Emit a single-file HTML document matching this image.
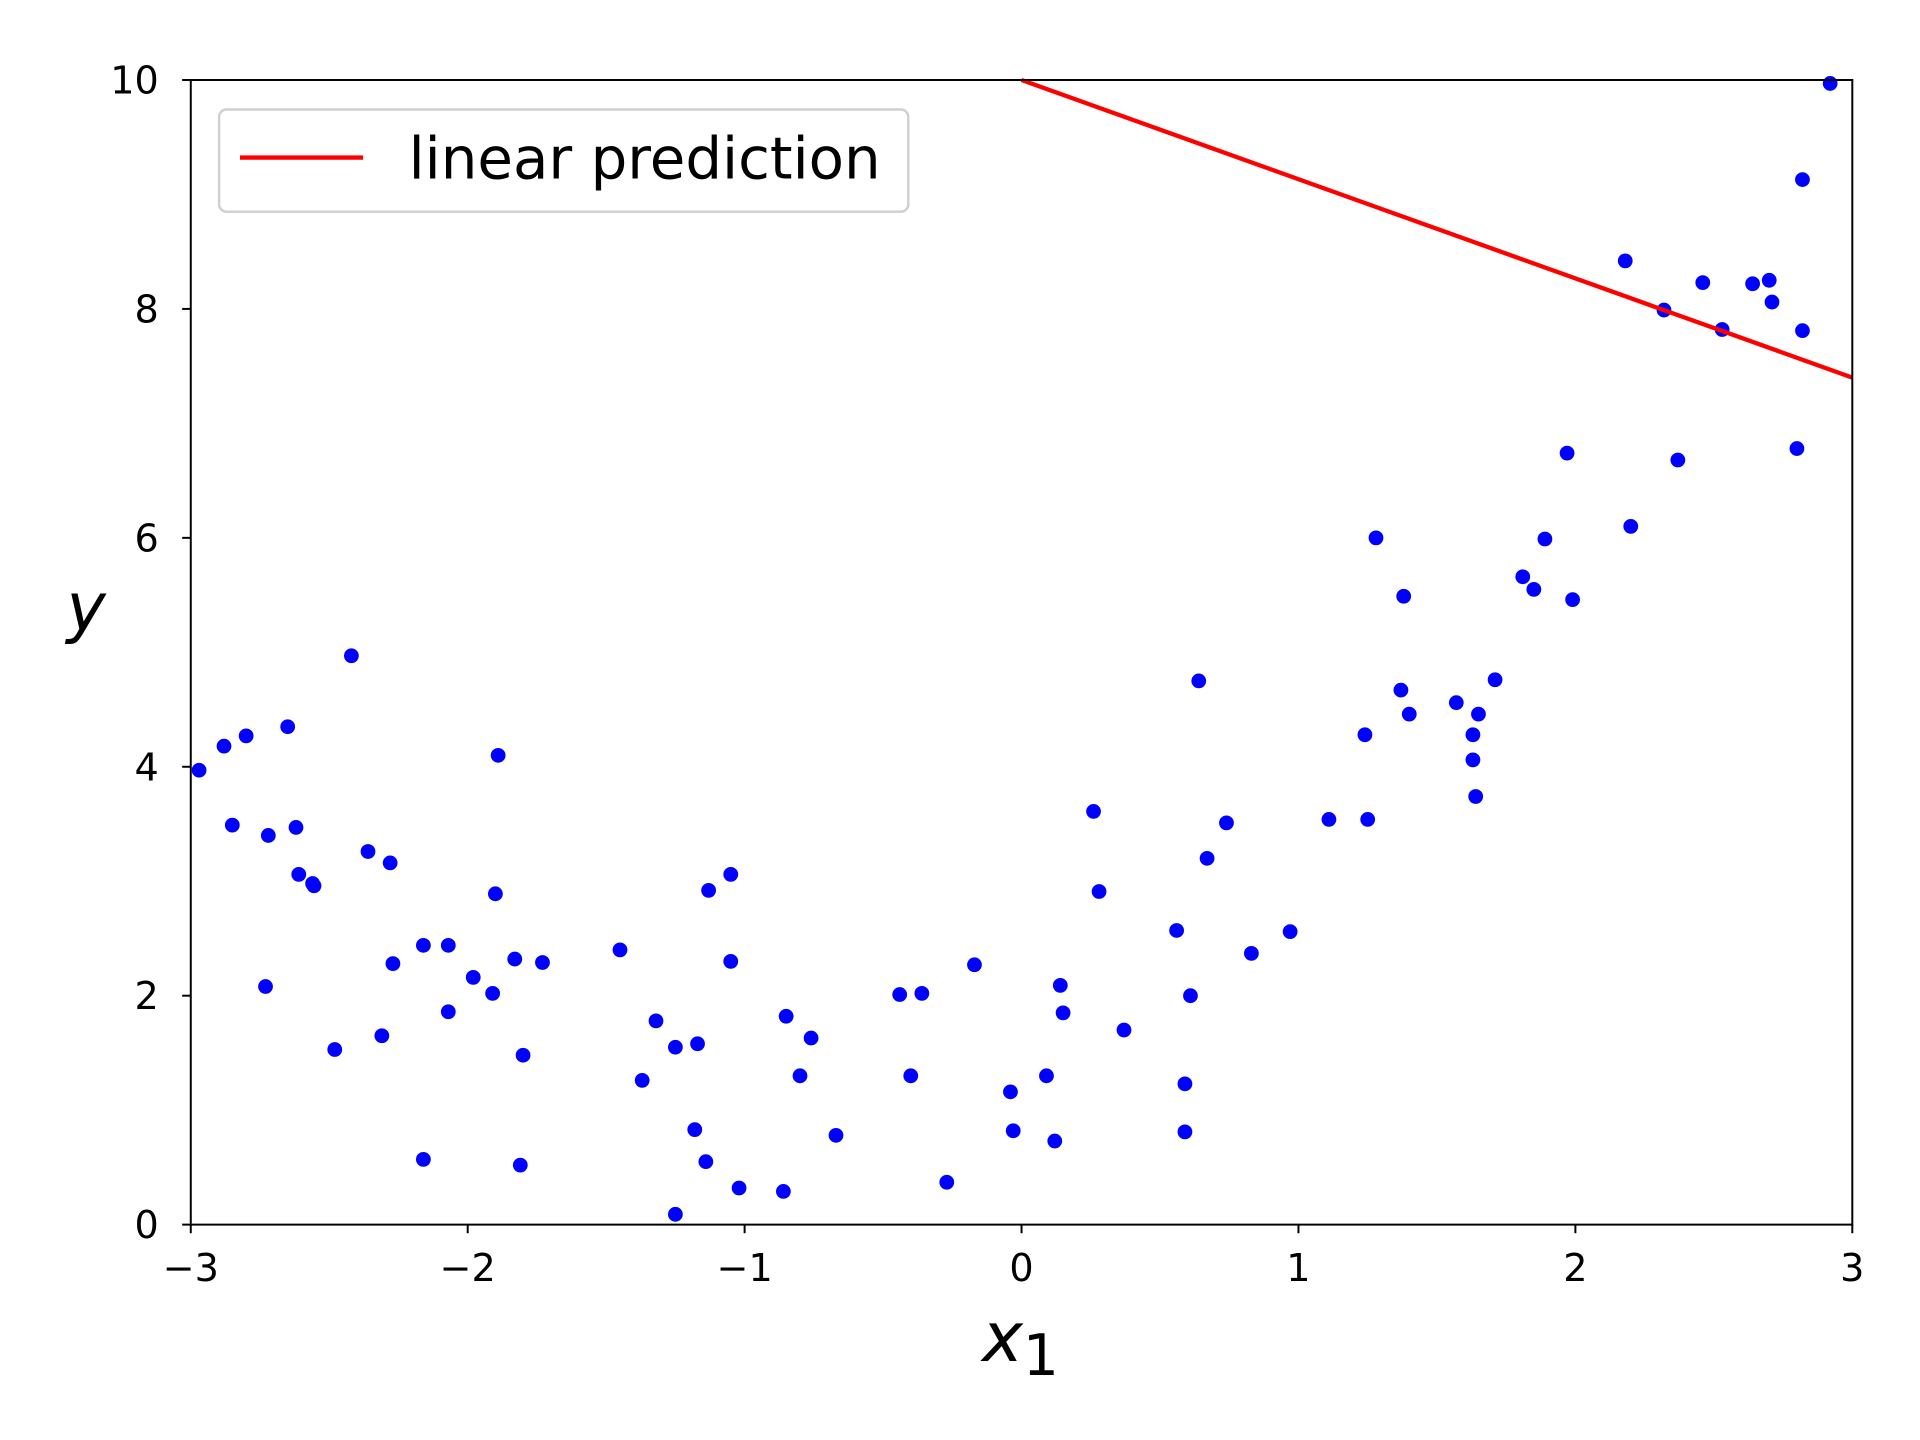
<!DOCTYPE html>
<html><head><meta charset="utf-8"><style>
html,body{margin:0;padding:0;background:#fff;}
svg{display:block;font-family:"DejaVu Sans","Liberation Sans",sans-serif;}
</style></head><body>
<svg id="chart" width="1920" height="1440" viewBox="0 0 1560 1170" xmlns="http://www.w3.org/2000/svg">
<rect width="1560" height="1170" fill="#fff"/>
<g id="points"></g>
<g id="lineg"></g>
<rect x="155" y="65" width="1350" height="930" fill="none" stroke="#000" stroke-width="1.6"/>
<g id="ticks"></g>
<text x="70" y="512" font-size="54" font-style="italic" text-anchor="middle">y</text>
<text x="798" y="1106" font-size="56" font-style="italic">x<tspan font-style="normal" font-size="46" dy="11">1</tspan></text>
<g>
<rect x="178" y="89" width="560" height="83" rx="6" fill="#fff" fill-opacity="0.8" stroke="#d0d0d0" stroke-width="2"/>
<line x1="195" y1="128" x2="295" y2="128" stroke="#ff0000" stroke-width="3.5"/>
<text x="332" y="145" font-size="47">linear prediction</text>
</g>
</svg>
<script>
const xs=[-2.97,-2.88,-2.80,-2.85,-2.72,-2.65,-2.73,-2.62,-2.61,-2.56,-2.555,-2.48,-2.42,-2.36,-2.31,-2.28,-2.27,-2.16,-2.16,-2.07,-2.07,-1.98,-1.91,-1.90,-1.89,-1.83,-1.80,-1.81,-1.73,-1.45,-1.37,-1.32,-1.25,-1.25,-1.18,-1.17,-1.14,-1.13,-1.05,-1.05,-1.02,-0.86,-0.85,-0.80,-0.76,-0.67,-0.44,-0.40,-0.36,-0.27,-0.17,-0.04,-0.03,0.09,0.12,0.14,0.15,0.26,0.28,0.37,0.56,0.59,0.59,0.61,0.64,0.67,0.74,0.83,0.97,1.11,1.24,1.25,1.28,1.37,1.38,1.40,1.57,1.63,1.63,1.64,1.65,1.71,1.81,1.85,1.89,1.97,1.99,2.18,2.20,2.32,2.37,2.46,2.53,2.64,2.70,2.71,2.80,2.82,2.82,2.92];
const ys=[3.97,4.18,4.27,3.49,3.40,4.35,2.08,3.47,3.06,2.98,2.96,1.53,4.97,3.26,1.65,3.16,2.28,2.44,0.57,2.44,1.86,2.16,2.02,2.89,4.10,2.32,1.48,0.52,2.29,2.40,1.26,1.78,0.09,1.55,0.83,1.58,0.55,2.92,3.06,2.30,0.32,0.29,1.82,1.30,1.63,0.78,2.01,1.30,2.02,0.37,2.27,1.16,0.82,1.30,0.73,2.09,1.85,3.61,2.91,1.70,2.57,1.23,0.81,2.00,4.75,3.20,3.51,2.37,2.56,3.54,4.28,3.54,6.00,4.67,5.49,4.46,4.56,4.28,4.06,3.74,4.46,4.76,5.66,5.55,5.99,6.74,5.46,8.42,6.10,7.99,6.68,8.23,7.82,8.22,8.25,8.06,6.78,7.81,9.13,9.97];
const lineX=[0,3];
const lineY=[10,7.4];
const xTicks=[-3,-2,-1,0,1,2,3];
const yTicks=[0,2,4,6,8,10];
const NS='http://www.w3.org/2000/svg';
const X0=155,X1=1505,Y0=995,Y1=65;
function sx(v){return X0+(v-(-3))/6*(X1-X0);}
function sy(v){return Y0-(v/10)*(Y0-Y1);}
function mk(t,a){const e=document.createElementNS(NS,t);for(const k in a)e.setAttribute(k,a[k]);return e;}
const pg=document.getElementById('points');
xs.forEach((x,i)=>{const c=mk('circle',{cx:sx(x),cy:sy(ys[i]),r:6,fill:'#0000ff'});


pg.appendChild(c);});
const ln=mk('line',{x1:sx(lineX[0]),y1:sy(lineY[0]),x2:sx(lineX[1]),y2:sy(lineY[1]),stroke:'#ff0000','stroke-width':3.5});


document.getElementById('lineg').appendChild(ln);
const tg=document.getElementById('ticks');
const minus='\u2212';
xTicks.forEach(v=>{const x=sx(v);
const l=mk('line',{x1:x,y1:Y0,x2:x,y2:Y0+7,stroke:'#000','stroke-width':1.6});


tg.appendChild(l);
const t=mk('text',{x:x,y:Y0+46,'font-size':31,'text-anchor':'middle'});
t.textContent=(v<0?minus+Math.abs(v):String(v));


tg.appendChild(t);});
yTicks.forEach(v=>{const y=sy(v);
const l=mk('line',{x1:X0-7,y1:y,x2:X0,y2:y,stroke:'#000','stroke-width':1.6});


tg.appendChild(l);
const t=mk('text',{x:X0-26,y:y+11,'font-size':31,'text-anchor':'end'});
t.textContent=String(v);


tg.appendChild(t);});
</script>
</body></html>
